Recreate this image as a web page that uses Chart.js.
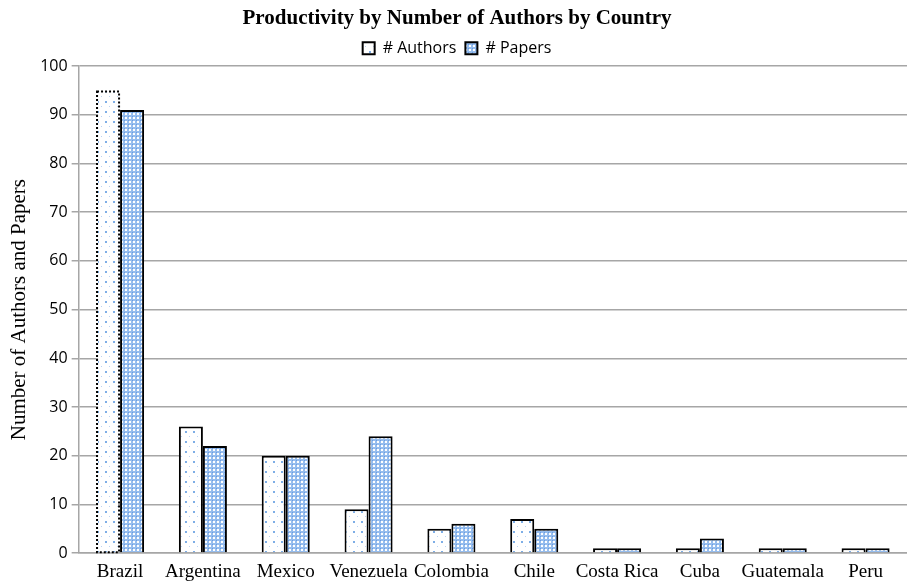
<!DOCTYPE html>
<html>
<head>
<meta charset="utf-8">
<script src="https://cdn.jsdelivr.net/npm/chart.js@4"></script>
<style>
  html, body { margin: 0; padding: 0; background: #fff; }
  #wrap { width: 907px; height: 584px; }
</style>
</head>
<body>
<div id="wrap"><canvas id="chart"></canvas></div>
<script>
        // Data
        const countries = ["Brazil", "Argentina", "Mexico", "Venezuela", "Colombia", "Chile", "Costa Rica", "Cuba", "Guatemala", "Peru"];
        const authors = [95, 26, 20, 9, 5, 7, 1, 1, 1, 1];
        const papers = [91, 22, 20, 24, 6, 5, 1, 3, 1, 1];
        const yTicks = [0, 10, 20, 30, 40, 50, 60, 70, 80, 90, 100];

        function makePattern(kind) {
            const c = document.createElement('canvas');
            const ctx = c.getContext('2d');
            if (kind === 'dots') {
                c.width = 8; c.height = 10;
                ctx.fillStyle = '#ffffff';
                ctx.fillRect(0, 0, 8, 10);
                ctx.fillStyle = '#7eaee6';
                ctx.fillRect(1, 1, 2, 2);
                ctx.fillStyle = '#bcd4f2';
                ctx.fillRect(5, 6, 1, 1);
            } else {
                c.width = 4; c.height = 4;
                ctx.fillStyle = '#96bdee';
                ctx.fillRect(0, 0, 4, 4);
                ctx.fillStyle = '#ffffff';
                ctx.fillRect(1, 1, 2, 2);
                ctx.fillStyle = '#6a9ce0';
                ctx.fillRect(0, 0, 1, 1);
            }
            return ctx.createPattern(c, 'repeat');
        }

        const dotFill = makePattern('dots');
        const hatchFill = makePattern('hatch');

        // Brazil's author bar has a dotted outline instead of a solid one
        const dottedOutline = {
            id: 'dottedOutline',
            afterDatasetsDraw(chart) {
                const bar = chart.getDatasetMeta(0).data[0];
                if (!bar) return;
                const { x, y, base, width } = bar.getProps(['x', 'y', 'base', 'width'], true);
                const ctx = chart.ctx;
                ctx.save();
                ctx.strokeStyle = '#000';
                ctx.lineWidth = 2;
                ctx.setLineDash([2, 2]);
                ctx.strokeRect(x - width / 2 + 1, y + 1, width - 2, base - y - 1);
                ctx.restore();
            }
        };

        new Chart(document.getElementById('chart').getContext('2d'), {
            type: 'bar',
            data: {
                labels: countries,
                datasets: [{
                    label: '# Authors',
                    data: authors,
                    backgroundColor: dotFill,
                    borderColor: authors.map((v, i) => i === 0 ? 'rgba(0,0,0,0)' : '#000'),
                    borderWidth: 2,
                    categoryPercentage: 0.58,
                    barPercentage: 1
                }, {
                    label: '# Papers',
                    data: papers,
                    backgroundColor: hatchFill,
                    borderColor: '#000',
                    borderWidth: 2,
                    categoryPercentage: 0.58,
                    barPercentage: 1
                }]
            },
            options: {
                responsive: true,
                maintainAspectRatio: false,
                animation: false,
                layout: { padding: { top: 0, right: 0, left: 7, bottom: 0 } },
                plugins: {
                    title: {
                        display: true,
                        text: 'Productivity by Number of Authors by Country',
                        color: '#000',
                        font: { family: 'Liberation Serif', size: 21, weight: 'bold', lineHeight: 1.2 },
                        padding: { top: 6, bottom: 0 }
                    },
                    legend: {
                        display: true,
                        labels: {
                            color: '#000',
                            font: { family: 'Open Sans', size: 16 },
                            boxWidth: 12,
                            boxHeight: 12,
                            padding: 9,
                            generateLabels(chart) {
                                return chart.data.datasets.map((ds, i) => ({
                                    text: ds.label,
                                    fillStyle: ds.backgroundColor,
                                    strokeStyle: '#000',
                                    lineWidth: 2,
                                    datasetIndex: i,
                                    hidden: false
                                }));
                            }
                        }
                    },
                    tooltip: { enabled: false }
                },
                scales: {
                    x: {
                        grid: { display: false },
                        border: { color: '#a6a6a6', width: 1.5 },
                        ticks: {
                            color: '#000',
                            font: { family: 'Liberation Serif', size: 19, lineHeight: 1.0 },
                            maxRotation: 0,
                            autoSkip: false,
                            padding: 2
                        }
                    },
                    y: {
                        min: 0,
                        max: 100,
                        afterBuildTicks(axis) {
                            axis.ticks = yTicks.map(v => ({ value: v }));
                        },
                        grid: { color: '#a6a6a6', lineWidth: 1.5, tickLength: 7 },
                        border: { color: '#a6a6a6', width: 1.5 },
                        ticks: {
                            color: '#000',
                            font: { family: 'Open Sans', size: 16 },
                            padding: 4
                        },
                        title: {
                            display: true,
                            text: 'Number of Authors and Papers',
                            color: '#000',
                            font: { family: 'Liberation Serif', size: 21 },
                            padding: { top: 0, bottom: 4 }
                        }
                    }
                }
            },
            plugins: [dottedOutline]
        });
</script>
</body>
</html>
